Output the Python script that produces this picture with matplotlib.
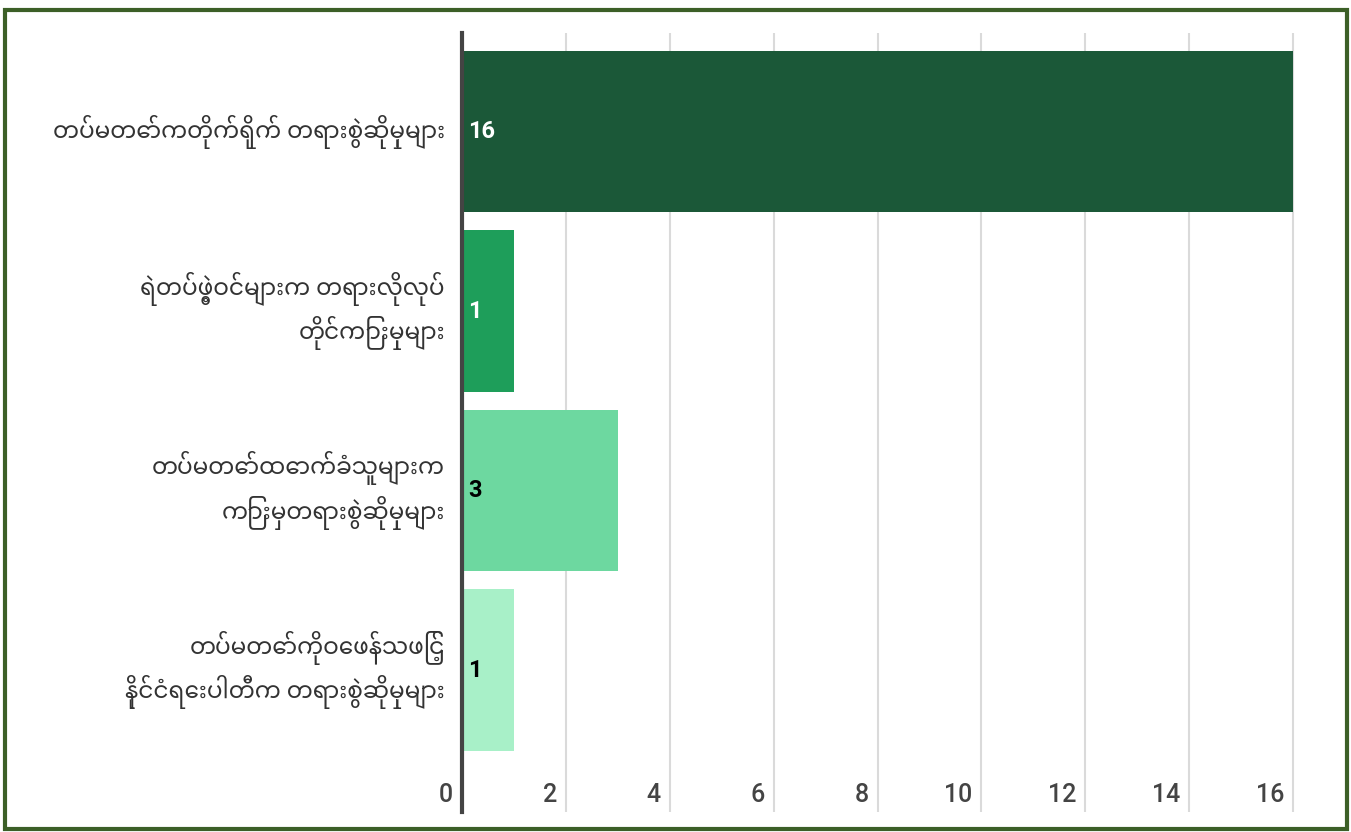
import matplotlib
matplotlib.use("Agg")
import matplotlib.pyplot as plt
from matplotlib import font_manager
from matplotlib.patches import Rectangle
from matplotlib.transforms import offset_copy, blended_transform_factory

# data
categories = [
    "တပ်မတော်ကတိုက်ရိုက် တရားစွဲဆိုမှုများ",
    "ရဲတပ်ဖွဲ့ဝင်များက တရားလိုလုပ်\nတိုင်ကြားမှုများ",
    "တပ်မတော်ထောက်ခံသူများက\nကြားမှတရားစွဲဆိုမှုများ",
    "တပ်မတော်ကိုဝေဖန်သဖြင့်\nနိုင်ငံရေးပါတီက တရားစွဲဆိုမှုများ",
]
values = [16, 1, 3, 1]
bar_colors = ["#1b5838", "#1e9e5a", "#6dd8a0", "#a8f0c8"]
label_colors = ["white", "white", "black", "black"]
xticks = [0, 2, 4, 6, 8, 10, 12, 14, 16]

# fonts: look for something with Myanmar glyphs
names = set(f.name for f in font_manager.fontManager.ttflist)
mm_fonts = [n for n in ["Noto Sans Myanmar", "Noto Sans Myanmar UI", "Padauk",
                        "Myanmar Text", "Myanmar3", "Pyidaungsu"] if n in names]
label_family = mm_fonts + ["Roboto", "DejaVu Sans"]
plt.rcParams["font.family"] = ["Roboto", "DejaVu Sans"]

W, H = 1351, 832
fig = plt.figure(figsize=(W / 100, H / 100), dpi=100)
fig.patch.set_facecolor("white")

# axes in pixels: left 462, right 1320, top 33, bottom 812
ax = fig.add_axes([462 / W, (H - 812) / H, (1320 - 462) / W, (812 - 33) / H])
unit = (1293 - 462) / 16
ax.set_xlim(0, (1320 - 462) / unit)
ax.set_ylim(3.79, -0.549)

ypos = list(range(len(categories)))
ax.barh(ypos, values, height=0.9, color=bar_colors, zorder=2)

for x in xticks[1:]:
    ax.axvline(x, color="#dadada", lw=1.5, zorder=1)
ax.axvline(0, color="#444444", lw=3, zorder=3, clip_on=False)

for s in ax.spines.values():
    s.set_visible(False)
ax.set_xticks([])
ax.set_yticks([])

# x tick labels drawn inside the axes, left of each gridline
trans = offset_copy(blended_transform_factory(ax.transData, ax.transAxes),
                    fig=fig, x=-9, y=0, units="dots")
for x in xticks:
    ax.text(x, 0.022, str(x), transform=trans, ha="right", va="center",
            fontsize=18, fontweight="medium", color="#444444")

# value labels inside bars
vtrans = offset_copy(ax.transData, fig=fig, x=6, y=0, units="dots")
for y, v, c in zip(ypos, values, label_colors):
    ax.text(0, y, str(v), transform=vtrans, ha="left", va="center",
            fontsize=17, fontweight="bold", color=c)

# category labels
ctrans = offset_copy(ax.transData, fig=fig, x=-17, y=0, units="dots")
for y, lab in zip(ypos, categories):
    ax.text(0, y, lab, transform=ctrans, ha="right", va="center",
            fontsize=16.7, color="#333333", family=label_family,
            linespacing=1.45)

# frame around the whole chart
fig.patches.append(Rectangle((4.5 / W, 3.5 / H), (W - 9) / W, (H - 13) / H,
                             transform=fig.transFigure, fill=False,
                             edgecolor="#3c5f27", lw=3))

fig.savefig("out.png", dpi=100)
